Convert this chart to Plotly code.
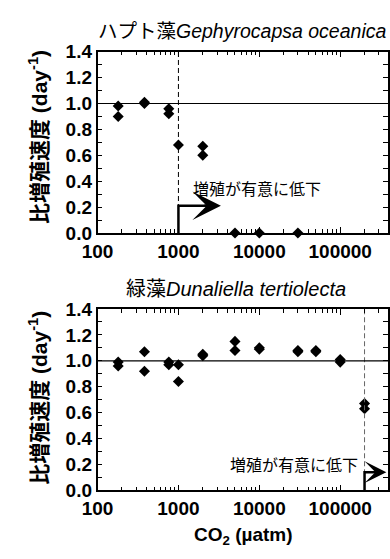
import math
import plotly.graph_objects as go

# ---------------- data ----------------
top_co2 = [180, 180, 380, 380, 760, 760, 1000, 2000, 2000, 5000, 10000, 30000]
top_rate = [0.98, 0.90, 1.00, 1.01, 0.96, 0.92, 0.68, 0.67, 0.60, 0.0, 0.0, 0.0]

bot_co2 = [180, 180, 380, 380, 760, 760, 1000, 1000, 2000, 2000, 5000, 5000,
           10000, 10000, 30000, 30000, 50000, 50000, 100000, 100000, 200000, 200000]
bot_rate = [0.99, 0.96, 1.07, 0.92, 0.99, 0.97, 0.97, 0.84, 1.05, 1.04, 1.15, 1.08,
            1.10, 1.09, 1.08, 1.07, 1.08, 1.07, 1.01, 0.99, 0.67, 0.63]

top_threshold = 1000
bot_threshold = 200000
reference_rate = 1.0

x_tickvals = [100, 1000, 10000, 100000]
x_ticktext = ["100", "1000", "10000", "100000"]
x_minor = [m * d for d in [100, 1000, 10000, 100000] for m in range(2, 10)]

top_title = "ハプト藻<i>Gephyrocapsa oceanica</i>"
bot_title = "緑藻<i>Dunaliella tertiolecta</i>"
y_title = "<b>比増殖速度 (day<sup>-1</sup>)</b>"
x_title = "<b>CO<sub>2</sub> (µatm)</b>"
note = "増殖が有意に低下"

# ---------------- figure ----------------
W, H = 390, 559
LATIN = "Liberation Sans, Arial, Noto Sans CJK JP"

fig = go.Figure()

mk = dict(symbol="diamond", size=8.5, color="black", line=dict(width=0))
fig.add_trace(go.Scatter(x=top_co2, y=top_rate, mode="markers", marker=mk,
                         xaxis="x", yaxis="y", cliponaxis=False))
fig.add_trace(go.Scatter(x=bot_co2, y=bot_rate, mode="markers", marker=mk,
                         xaxis="x2", yaxis="y2", cliponaxis=False))

# dashed threshold lines
fig.add_trace(go.Scatter(x=[top_threshold, top_threshold], y=[0, 1.4], mode="lines",
                         line=dict(color="black", width=1, dash="5px,3px"),
                         xaxis="x", yaxis="y", hoverinfo="skip"))
fig.add_trace(go.Scatter(x=[bot_threshold, bot_threshold], y=[0, 1.4], mode="lines",
                         line=dict(color="#666666", width=1, dash="5px,3px"),
                         xaxis="x2", yaxis="y2", hoverinfo="skip"))

# arrow shafts (vertical + horizontal)
top_arrow_y = 0.21
bot_arrow_y = 0.14
top_tip = 3350
bot_tip = 372000
fig.add_trace(go.Scatter(x=[top_threshold, top_threshold, 2400], y=[0, top_arrow_y, top_arrow_y],
                         mode="lines", line=dict(color="black", width=2.5),
                         xaxis="x", yaxis="y", hoverinfo="skip", cliponaxis=False))
fig.add_trace(go.Scatter(x=[bot_threshold, bot_threshold, 290000], y=[0, bot_arrow_y, bot_arrow_y],
                         mode="lines", line=dict(color="black", width=2.5),
                         xaxis="x2", yaxis="y2", hoverinfo="skip", cliponaxis=False))

xdom = [85.5 / W, 1.0]
top_dom = [(H - 231.7) / H, (H - 43.3) / H]
bot_dom = [(H - 499.0) / H, (H - 310.7) / H]

def xaxis_cfg(anchor):
    return dict(type="log", range=[2, 5.591], domain=xdom, anchor=anchor,
                showline=True, linecolor="black", linewidth=1.5, mirror="ticks",
                ticks="inside", ticklen=6, tickwidth=1.2, tickcolor="black",
                tickvals=x_tickvals, ticktext=x_ticktext,
                tickfont=dict(family=LATIN, size=19, color="black", weight="bold"),
                minor=dict(ticks="inside", ticklen=4, tickwidth=1, tickcolor="black",
                           tickvals=x_minor, showgrid=False),
                showgrid=False, zeroline=False)

def yaxis_cfg(anchor, dom):
    return dict(range=[0, 1.4], domain=dom, anchor=anchor,
                showline=True, linecolor="black", linewidth=1.5, mirror="ticks",
                ticks="inside", ticklen=5, tickwidth=1.2, tickcolor="black",
                tick0=0, dtick=0.2, tickformat=".1f",
                tickfont=dict(family=LATIN, size=19, color="black", weight="bold"),
                minor=dict(ticks="inside", ticklen=5, tickwidth=1, tickcolor="black",
                           dtick=0.1, showgrid=False),
                showgrid=False, zeroline=False)

fig.update_layout(
    width=W, height=H, margin=dict(l=0, r=0, t=0, b=0),
    paper_bgcolor="white", plot_bgcolor="white", showlegend=False,
    xaxis=xaxis_cfg("y"), yaxis=yaxis_cfg("x", top_dom),
    xaxis2=xaxis_cfg("y2"), yaxis2=yaxis_cfg("x2", bot_dom),
    shapes=[
        dict(type="line", xref="x domain", yref="y", x0=0, x1=1,
             y0=reference_rate, y1=reference_rate, line=dict(color="black", width=1.2)),
        dict(type="line", xref="x2 domain", yref="y2", x0=0, x1=1,
             y0=reference_rate, y1=reference_rate, line=dict(color="black", width=1.2)),
    ],
)

ann = []
# arrow heads
ann.append(dict(xref="x", yref="y", axref="x", ayref="y",
                x=math.log10(top_tip), y=top_arrow_y,
                ax=math.log10(2000), ay=top_arrow_y,
                showarrow=True, arrowhead=3, arrowwidth=2.5, arrowsize=1.9,
                arrowcolor="black", text=""))
ann.append(dict(xref="x2", yref="y2", axref="x2", ayref="y2",
                x=math.log10(bot_tip), y=bot_arrow_y,
                ax=math.log10(260000), ay=bot_arrow_y,
                showarrow=True, arrowhead=3, arrowwidth=2.5, arrowsize=1.45,
                arrowcolor="black", text=""))
# panel titles
ann.append(dict(xref="paper", yref="paper", x=237 / W, y=1 - 22 / H, text=top_title,
                showarrow=False, xanchor="center", yanchor="middle",
                font=dict(family=LATIN, size=19.5, color="black")))
ann.append(dict(xref="paper", yref="paper", x=231 / W, y=1 - 290 / H, text=bot_title,
                showarrow=False, xanchor="center", yanchor="middle",
                font=dict(family=LATIN, size=20, color="black")))
# y titles
for yc in [132, 403]:
    ann.append(dict(xref="paper", yref="paper", x=23 / W, y=1 - yc / H, text=y_title,
                    textangle=-90, showarrow=False, xanchor="center", yanchor="middle",
                    font=dict(family=LATIN, size=21, color="black")))
# x title
ann.append(dict(xref="paper", yref="paper", x=238 / W, y=1 - 547 / H, text=x_title,
                showarrow=False, xanchor="center", yanchor="middle",
                font=dict(family=LATIN, size=19, color="black")))
# notes
ann.append(dict(xref="paper", yref="paper", x=253 / W, y=1 - 185 / H, text=note,
                showarrow=False, xanchor="center", yanchor="middle",
                font=dict(family="Noto Sans CJK JP", size=16, color="black")))
ann.append(dict(xref="paper", yref="paper", x=361 / W, y=1 - 471.7 / H, text=note,
                showarrow=False, xanchor="right", yanchor="middle",
                font=dict(family="Noto Sans CJK JP", size=16, color="black")))
fig.update_layout(annotations=ann)

fig.write_html("out.html")
